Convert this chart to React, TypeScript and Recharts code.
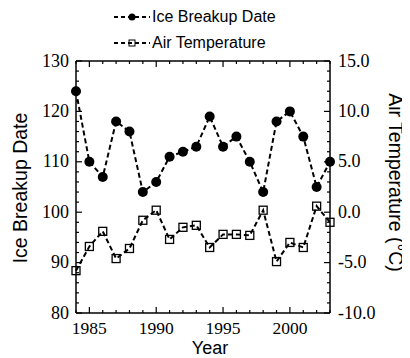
import { LineChart, Line, XAxis, YAxis, Legend } from "recharts";

const years = [1984, 1985, 1986, 1987, 1988, 1989, 1990, 1991, 1992, 1993, 1994, 1995, 1996, 1997, 1998, 1999, 2000, 2001, 2002, 2003];
const iceBreakup = [124, 110, 107, 118, 116, 104, 106, 111, 112, 113, 119, 113, 115, 110, 104, 118, 120, 115, 105, 110];
const airTemp = [-5.8, -3.4, -1.9, -4.6, -3.6, -0.8, 0.2, -2.7, -1.5, -1.3, -3.5, -2.2, -2.2, -2.3, 0.2, -4.9, -3.0, -3.5, 0.6, -1.0];

const iceTicks = [80, 82, 84, 86, 88, 90, 92, 94, 96, 98, 100, 102, 104, 106, 108, 110, 112, 114, 116, 118, 120, 122, 124, 126, 128, 130];
const tempTicks = [-10, -9, -8, -7, -6, -5, -4, -3, -2, -1, 0, 1, 2, 3, 4, 5, 6, 7, 8, 9, 10, 11, 12, 13, 14, 15];

const data = years.map((year, i) => ({ year, ice: iceBreakup[i], temp: airTemp[i] }));

const SERIF = "'Liberation Serif', 'Times New Roman', serif";
const SANS = "'Liberation Sans', Arial, sans-serif";

function BottomTick(props: any) {
  const { x, y, payload } = props;
  const v = payload.value;
  const major = v % 5 === 0;
  return (
    <g>
      <line x1={x} x2={x} y1={y} y2={y - (major ? 6 : 3)} stroke="#000" strokeWidth={1.2} />
      {major && (
        <text x={x} y={y + 20.5} textAnchor="middle" fontFamily={SERIF} fontSize={17.5} fill="#000">
          {v}
        </text>
      )}
    </g>
  );
}

function TopTick(props: any) {
  const { x, y, payload } = props;
  const major = payload.value % 5 === 0;
  return <line x1={x} x2={x} y1={y} y2={y + (major ? 6 : 3)} stroke="#000" strokeWidth={1.2} />;
}

function LeftTick(props: any) {
  const { x, y, payload } = props;
  const v = payload.value;
  const major = v % 10 === 0;
  return (
    <g>
      <line x1={x} x2={x + (major ? 6 : 3)} y1={y} y2={y} stroke="#000" strokeWidth={1.2} />
      {major && (
        <text x={x - 7} y={y + 5.5} textAnchor="end" fontFamily={SERIF} fontSize={18} fill="#000">
          {v}
        </text>
      )}
    </g>
  );
}

function RightTick(props: any) {
  const { x, y, payload } = props;
  const v = payload.value;
  const major = v % 5 === 0;
  return (
    <g>
      <line x1={x} x2={x - (major ? 6 : 3)} y1={y} y2={y} stroke="#000" strokeWidth={1.2} />
      {major && (
        <text x={x + 8} y={y + 5.5} textAnchor="start" fontFamily={SERIF} fontSize={18} fill="#000">
          {v.toFixed(1)}
        </text>
      )}
    </g>
  );
}

function Square(props: any) {
  const { cx, cy } = props;
  if (cx == null || cy == null) return null;
  return <rect x={cx - 4} y={cy - 4} width={8} height={8} fill="none" stroke="#000" strokeWidth={1.3} />;
}

function LegendBox() {
  const row = (top: number, label: string, square: boolean) => (
    <div style={{ position: "absolute", left: 106, top, height: 18, display: "flex", alignItems: "center" }}>
      <svg width={36} height={18}>
        <line x1={0} x2={36} y1={9} y2={9} stroke="#000" strokeWidth={2} strokeDasharray="4 3" />
        {square ? (
          <rect x={15} y={6} width={6} height={6} fill="none" stroke="#000" strokeWidth={1} />
        ) : (
          <circle cx={18} cy={9} r={3.5} fill="#000" />
        )}
      </svg>
      <span style={{ fontFamily: SANS, fontSize: 16, marginLeft: 2, color: "#000", whiteSpace: "nowrap" }}>{label}</span>
    </div>
  );
  return (
    <div style={{ position: "relative", width: 400, height: 48 }}>
      {row(0, "Ice Breakup Date", false)}
      {row(26, "Air Temperature", true)}
    </div>
  );
}

export default function App() {
  return (
    <div style={{ width: 400, height: 350 }}>
      <LineChart width={400} height={350} data={data} margin={{ top: 0, right: 0, bottom: 0, left: 0 }}>
        <Legend verticalAlign="top" content={() => <LegendBox />} />
        <XAxis
          xAxisId="bottom"
          dataKey="year"
          type="number"
          domain={[1984, 2003]}
          ticks={years}
          interval={0}
          height={45}
          tickSize={0}
          tickMargin={0}
          tickLine={false}
          tick={(p: any) => <BottomTick {...p} />}
          axisLine={{ stroke: "#000", strokeWidth: 1.5 }}
          label={{
            content: (p: any) => {
              const vb = p.viewBox;
              return (
                <text x={202} y={vb.y + 41} textAnchor="middle" fontFamily={SANS} fontSize={18} fill="#000">
                  Year
                </text>
              );
            },
          }}
        />
        <XAxis
          xAxisId="top"
          orientation="top"
          dataKey="year"
          type="number"
          domain={[1984, 2003]}
          ticks={years}
          interval={0}
          height={5}
          tickSize={0}
          tickMargin={0}
          tickLine={false}
          tick={(p: any) => <TopTick {...p} />}
          axisLine={{ stroke: "#000", strokeWidth: 1.5 }}
        />
        <YAxis
          yAxisId="left"
          domain={[80, 130]}
          ticks={iceTicks}
          interval={0}
          width={68}
          tickSize={0}
          tickMargin={0}
          tickLine={false}
          tick={(p: any) => <LeftTick {...p} />}
          axisLine={{ stroke: "#000", strokeWidth: 1.5 }}
          label={{
            content: (p: any) => {
              const vb = p.viewBox;
              return (
                <text
                  transform={`translate(19,${vb.y + vb.height / 2 + 1}) rotate(-90)`}
                  textAnchor="middle"
                  fontFamily={SANS}
                  fontSize={19.5}
                  fill="#000"
                >
                  Ice Breakup Date
                </text>
              );
            },
          }}
        />
        <YAxis
          yAxisId="right"
          orientation="right"
          domain={[-10, 15]}
          ticks={tempTicks}
          interval={0}
          width={78}
          tickSize={0}
          tickMargin={0}
          tickLine={false}
          tick={(p: any) => <RightTick {...p} />}
          axisLine={{ stroke: "#000", strokeWidth: 1.5 }}
          label={{
            content: (p: any) => {
              const vb = p.viewBox;
              return (
                <text
                  transform={`translate(381,${vb.y + vb.height / 2 - 4.5}) rotate(90)`}
                  textAnchor="middle"
                  fontFamily={SANS}
                  fontSize={19.5}
                  fill="#000"
                >
                  Air Temperature (°C)
                </text>
              );
            },
          }}
        />
        <Line
          xAxisId="bottom"
          yAxisId="left"
          dataKey="ice"
          stroke="#000"
          strokeWidth={2}
          strokeDasharray="5 3"
          dot={{ r: 5, fill: "#000", stroke: "#000", strokeWidth: 0 }}
          isAnimationActive={false}
        />
        <Line
          xAxisId="top"
          yAxisId="right"
          dataKey="temp"
          stroke="#000"
          strokeWidth={2}
          strokeDasharray="5 3"
          dot={(p: any) => <Square key={p.index} {...p} />}
          isAnimationActive={false}
        />
      </LineChart>
    </div>
  );
}
